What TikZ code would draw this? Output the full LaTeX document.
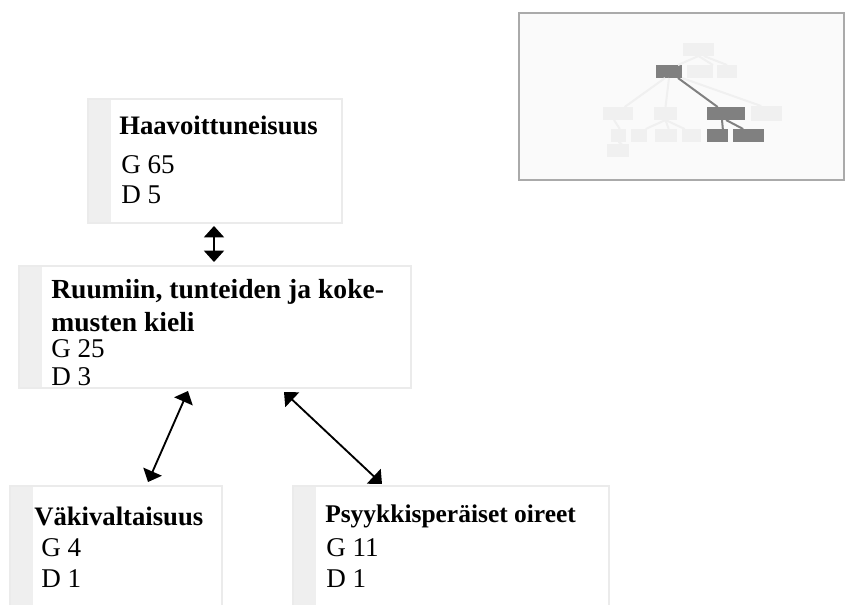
\documentclass[tikz,border=0pt]{standalone}
\usepackage{fontspec}
\setmainfont{Liberation Serif}
\usetikzlibrary{arrows.meta,calc,backgrounds}
\definecolor{edgegray}{HTML}{EBEBEB}
\definecolor{stripgray}{HTML}{EFEFEF}
\definecolor{mlight}{HTML}{F0F0F0}
\definecolor{mdark}{HTML}{808080}
\definecolor{mframe}{HTML}{AAAAAA}
\definecolor{mbg}{HTML}{FAFAFA}
\begin{document}
\begin{tikzpicture}[x=0.75pt,y=-0.75pt,
  box/.style={draw=edgegray, line width=1.2pt, fill=white, anchor=north west,
    inner sep=0pt, outer sep=0pt,
    path picture={\fill[stripgray] (path picture bounding box.north west) rectangle ([xshift=17pt]path picture bounding box.south west);}},
  ttl/.style={anchor=base west, inner sep=0pt, font=\fontsize{20}{24}\selectfont\bfseries},
  txt/.style={anchor=base west, inner sep=0pt, font=\fontsize{20.3}{24}\selectfont},
  arr/.style={{Triangle[length=8.5pt,width=15pt]}-{Triangle[length=8.5pt,width=15pt]}, line width=1.4pt, black},
  mini/.style={fill=mlight, inner sep=0pt, outer sep=0pt, anchor=north west, minimum height=9.75pt},
  minid/.style={mini, fill=mdark},
  mline/.style={draw=mlight, line width=1.5pt},
  mdline/.style={draw=mdark, line width=1.5pt}
]
\useasboundingbox (0,0) rectangle (845,604);
\clip (0,0) rectangle (845,604);

% main boxes
\node[box, minimum width=190.5pt, minimum height=93pt] (b1) at (88,99) {};
\node[box, minimum width=294pt, minimum height=91.5pt] (b2) at (19,266) {};
\node[box, minimum width=159pt, minimum height=95pt] (b3) at (10,486) {};
\node[box, minimum width=237pt, minimum height=95pt] (b4) at (293,486) {};

% texts
\node[ttl] (t1) at (119,134) {Haavoittuneisuus};
\node[txt] (g1) at (121,173) {G 65};
\node[txt] (d1) at (121,203) {D 5};

\node[ttl, font=\fontsize{20.7}{24}\selectfont\bfseries] (t2a) at (51,298) {Ruumiin, tunteiden ja koke-};
\node[ttl, font=\fontsize{20.7}{24}\selectfont\bfseries] (t2b) at (51,331) {musten kieli};
\node[txt] (g2) at (51,357) {G 25};
\node[txt] (d2) at (51,385) {D 3};

\node[ttl] (t3) at (34,525) {Väkivaltaisuus};
\node[txt] (g3) at (41,556) {G 4};
\node[txt] (d3) at (41,587) {D 1};

\node[ttl, font=\fontsize{19.1}{24}\selectfont\bfseries] (t4) at (325,522) {Psyykkisperäiset oireet};
\node[txt] (g4) at (326,556) {G 11};
\node[txt] (d4) at (326,587) {D 1};

% connectors
\coordinate (a0s) at ($(b1.south west)+(126,3)$);
\coordinate (a0e) at ($(b2.north west)+(195,-4)$);
\draw[arr] (a0s) -- (a0e);
\coordinate (a1s) at ($(b2.south west)+(169,3)$);
\coordinate (a1e) at ($(b3.north west)+(138,-4)$);
\draw[arr] (a1s) -- (a1e);
\coordinate (a2s) at ($(b2.south west)+(265,4)$);
\coordinate (a2e) at ($(b4.north west)+(89,-2)$);
\draw[arr] (a2s) -- (a2e);

% minimap
\node[draw=mframe, fill=mbg, line width=1.5pt, anchor=north west, inner sep=0pt,
  minimum width=243.75pt, minimum height=125.25pt] (mm) at (518,12) {};
\node[mini, minimum width=23.25pt] (m1) at (683,43) {};
\node[minid, minimum width=19.5pt] (m2) at (656,65) {};
\node[mini, minimum width=19.5pt] (m3) at (687,65) {};
\node[mini, minimum width=15pt] (m4) at (717,65) {};
\node[mini, minimum width=22.5pt] (m5) at (603,107) {};
\node[mini, minimum width=17.25pt] (m6) at (654,107) {};
\node[minid, minimum width=28.5pt] (m7) at (707,107) {};
\node[mini, minimum width=23.25pt, minimum height=11.25pt] (m8) at (751,106) {};
\node[mini, minimum width=11.25pt] (m9) at (611,129) {};
\node[mini, minimum width=12pt] (m10) at (631,129) {};
\node[mini, minimum width=16.5pt] (m11) at (655,129) {};
\node[mini, minimum width=14.25pt] (m12) at (682,129) {};
\node[minid, minimum width=15.75pt] (m13) at (707,129) {};
\node[minid, minimum width=23.25pt] (m14) at (733,129) {};
\node[mini, minimum width=16.5pt] (m15) at (607,144) {};

\draw[mline] (m1.south) -- ([xshift=-3pt]m2.north east);
\draw[mline] (m1.south) -- (m3.north east);
\draw[mline] ([xshift=4pt]m1.south) -- (m4.north);
\draw[mline] ([xshift=-3pt]m2.south) -- ([xshift=5pt]m5.north);
\draw[mline] (m2.south) -- (m6.north);
\draw[mline] (m2.south east) -- ([xshift=-4pt]m8.north);
\draw[mdline] ([xshift=-3pt]m2.south east) -- ([xshift=8pt]m7.north west);
\draw[mline] ([xshift=-3pt]m5.south) -- ([xshift=1pt]m9.north);
\draw[mline] (m9.south) -- ([xshift=3pt]m15.north);
\draw[mline] (m6.south) -- ([xshift=-1pt]m10.north east);
\draw[mline] (m6.south) -- ([xshift=2pt]m11.north);
\draw[mline] (m6.south) -- ([xshift=2pt]m12.north west);
\draw[mdline] ([xshift=-3pt]m7.south) -- ([xshift=4pt]m13.north);
\draw[mdline] (m7.south) -- ([xshift=-4pt]m14.north);
\end{tikzpicture}
\end{document}
